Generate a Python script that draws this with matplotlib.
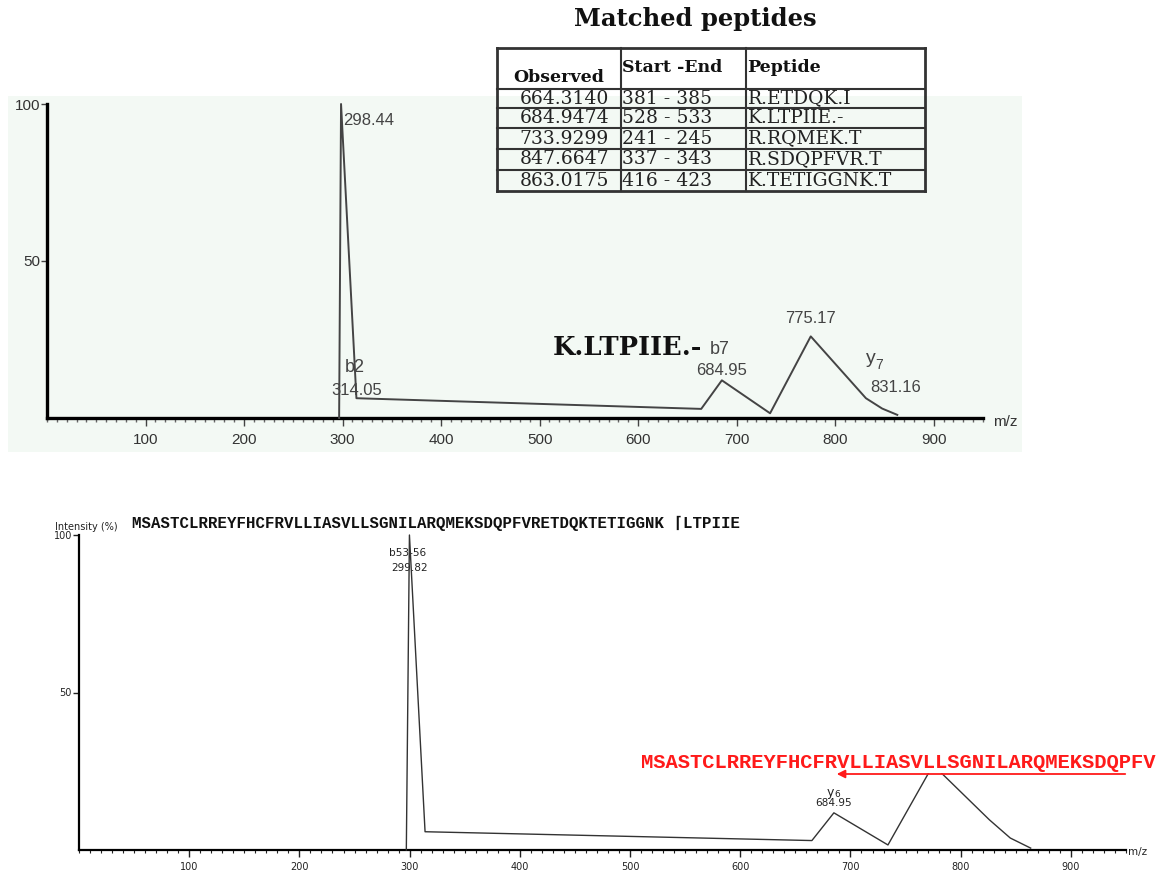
import matplotlib
matplotlib.use("Agg")
import matplotlib.pyplot as plt
from matplotlib.patches import Rectangle, FancyArrowPatch
from matplotlib.lines import Line2D
from matplotlib.ticker import FixedLocator, MultipleLocator

W, H = 1157, 875

# ---------------- data ----------------
table_title = "Matched peptides"
table_headers = ["Observed", "Start -End", "Peptide"]
observed = ["664.3140", "684.9474", "733.9299", "847.6647", "863.0175"]
start_end = ["381 - 385", "528 - 533", "241 - 245", "337 - 343", "416 - 423"]
peptides = ["R.ETDQK.I", "K.LTPIIE.-", "R.RQMEK.T", "R.SDQPFVR.T", "K.TETIGGNK.T"]

top_mz = [296.5, 298.44, 314.05, 664.0, 684.95, 733.9, 775.17, 831.16, 847.7, 863.0]
top_int = [0, 100, 6.3, 2.9, 12.0, 1.5, 26.0, 6.3, 3.0, 1.0]
top_peptide = "K.LTPIIE.-"

bot_mz = [297.0, 299.82, 314.0, 665.0, 684.95, 734.0, 775.0, 826.0, 845.0, 863.5]
bot_int = [0, 100, 5.8, 3.0, 11.8, 1.6, 27.0, 9.6, 3.8, 0.6]
bot_sequence = "MSASTCLRREYFHCFRVLLIASVLLSGNILARQMEKSDQPFVRETDQKTETIGGNK"
bot_cterm = "LTPIIE"
red_sequence = "MSASTCLRREYFHCFRVLLIASVLLSGNILARQMEKSDQPFV"

x_ticks = [100, 200, 300, 400, 500, 600, 700, 800, 900]
y_ticks = [50, 100]
x_max = 950
y_max = 100

# ---------------- figure ----------------
fig = plt.figure(figsize=(W / 100, H / 100), dpi=100)
fig.patch.set_facecolor("white")


def fx(px):
    return px / W


def fy(py):
    return 1 - py / H


def rect(x0, y0, x1, y1):
    return [fx(x0), fy(y1), (x1 - x0) / W, (y1 - y0) / H]


# mint background of top panel
fig.add_artist(Rectangle((fx(8), fy(452)), (1022 - 8) / W, (452 - 96) / H,
                         transform=fig.transFigure, facecolor="#f3f9f4",
                         edgecolor="none", zorder=-10))

# ---------------- top spectrum ----------------
ax1 = fig.add_axes(rect(47, 104, 983, 418))
ax1.set_facecolor("none")
ax1.plot(top_mz, top_int, color="#444444", lw=1.4, clip_on=False, zorder=4)
ax1.set_xlim(0, x_max)
ax1.set_ylim(0, y_max)
for s in ["top", "right"]:
    ax1.spines[s].set_visible(False)
ax1.spines["left"].set_linewidth(2.4)
ax1.spines["bottom"].set_linewidth(2.4)
ax1.xaxis.set_major_locator(FixedLocator(x_ticks))
ax1.xaxis.set_minor_locator(MultipleLocator(10))
ax1.yaxis.set_major_locator(FixedLocator(y_ticks))
ax1.tick_params(axis="x", which="major", length=6, width=1, color="#444444",
                labelsize=11, labelcolor="#333333", pad=5)
ax1.tick_params(axis="x", which="minor", length=3, width=1, color="#666666")
ax1.tick_params(axis="y", which="major", length=4, width=1, color="#444444",
                labelsize=11, labelcolor="#333333", pad=1)
for lab in ax1.get_xticklabels() + ax1.get_yticklabels():
    lab.set_fontfamily("Liberation Sans")
fig.text(fx(1005), fy(422), "m/z", fontsize=11, color="#333333",
         family="Liberation Sans", ha="center", va="center")

ann_kw = dict(fontsize=12, color="#444444", family="Liberation Sans", va="center")
ax1.text(300.4, 94.6, f"{top_mz[1]:.2f}", ha="left", **ann_kw)
ax1.text(312.6, 16.2, "b2", ha="center", **dict(ann_kw, fontsize=13))
ax1.text(314.6, 8.9, f"{top_mz[2]:.2f}", ha="center", **ann_kw)
ax1.text(664.8, 22.6, top_peptide, ha="right", va="center", fontsize=18.5,
         fontweight="bold", family="DejaVu Serif", color="#111111")
ax1.text(673.0, 21.7, "b7", ha="left", **dict(ann_kw, fontsize=13))
ax1.text(top_mz[4], 15.0, f"{top_mz[4]:.2f}", ha="center", **ann_kw)
ax1.text(top_mz[6], 31.8, f"{top_mz[6]:.2f}", ha="center", **ann_kw)
ax1.text(841.0, 19.1, "y", ha="right", **dict(ann_kw, fontsize=14))
ax1.text(841.0, 17.0, "7", ha="left", **dict(ann_kw, fontsize=10))
ax1.text(861.7, 9.6, f"{top_mz[7]:.2f}", ha="center", **ann_kw)

# ---------------- table ----------------
col_x = [497, 621, 746, 925]
row_y = [48, 89, 108, 128, 149, 170, 191]
fig.add_artist(Rectangle((fx(col_x[0]), fy(row_y[1])), (col_x[-1] - col_x[0]) / W,
                         (row_y[1] - row_y[0]) / H, transform=fig.transFigure,
                         facecolor="white", edgecolor="none", zorder=5))
for x in col_x:
    lw = 2.0 if x in (col_x[0], col_x[-1]) else 1.5
    fig.add_artist(Line2D([fx(x), fx(x)], [fy(row_y[0]), fy(row_y[-1])], color="#333333",
                          lw=lw, transform=fig.transFigure, zorder=6))
for y in row_y:
    lw = 2.0 if y in (row_y[0], row_y[-1]) else 1.5
    fig.add_artist(Line2D([fx(col_x[0]), fx(col_x[-1])], [fy(y), fy(y)], color="#333333",
                          lw=lw, transform=fig.transFigure, zorder=6))
fig.text(fx(695), fy(19), table_title, fontsize=17.5, fontweight="bold",
         family="DejaVu Serif", ha="center", va="center", color="#111111", zorder=7)
hdr_kw = dict(fontsize=12.5, fontweight="bold", family="DejaVu Serif", color="#111111",
              va="center", zorder=7)
fig.text(fx(513), fy(78), table_headers[0], ha="left", **hdr_kw)
fig.text(fx(622), fy(68), table_headers[1], ha="left", **hdr_kw)
fig.text(fx(747), fy(68), table_headers[2], ha="left", **hdr_kw)
cell_kw = dict(fontsize=13.5, family="DejaVu Serif", color="#222222", va="center", zorder=7)
for i in range(len(observed)):
    yc = (row_y[i + 1] + row_y[i + 2]) / 2
    fig.text(fx(609), fy(yc), observed[i], ha="right", **cell_kw)
    fig.text(fx(622), fy(yc), start_end[i], ha="left", **cell_kw)
    fig.text(fx(748), fy(yc), peptides[i], ha="left", **cell_kw)

# ---------------- bottom spectrum ----------------
ax2 = fig.add_axes(rect(79, 535, 1126, 850))
ax2.set_facecolor("none")
ax2.plot(bot_mz, bot_int, color="#333333", lw=1.0, clip_on=False, zorder=4)
ax2.set_xlim(0, x_max)
ax2.set_ylim(0, y_max)
for s in ["top", "right"]:
    ax2.spines[s].set_visible(False)
ax2.spines["left"].set_linewidth(1.6)
ax2.spines["bottom"].set_linewidth(1.6)
ax2.xaxis.set_major_locator(FixedLocator(x_ticks))
ax2.xaxis.set_minor_locator(MultipleLocator(10))
ax2.yaxis.set_major_locator(FixedLocator(y_ticks))
ax2.tick_params(axis="x", which="major", length=5, width=1, color="#222222",
                labelsize=7, labelcolor="#222222", pad=3.5)
ax2.tick_params(axis="x", which="minor", length=2.5, width=0.8, color="#222222")
ax2.tick_params(axis="y", which="major", length=4, width=1, color="#222222",
                labelsize=7, labelcolor="#222222", pad=1)
fig.text(fx(1138), fy(852), "m/z", fontsize=7.5, color="#222222",
         ha="center", va="center")
fig.text(fx(86), fy(527), "Intensity (%)", fontsize=7, color="#222222",
         ha="center", va="center")

bk = dict(fontsize=7.6, color="#222222", va="center", zorder=3)
ax2.text(298.4, 94.3, "b53-56", ha="center", **bk)
ax2.text(300.2, 89.5, f"{bot_mz[1]:.2f}", ha="center", **bk)
ax2.text(bot_mz[4], 18.4, "y", ha="right", **dict(bk, fontsize=9))
ax2.text(bot_mz[4], 17.6, "6", ha="left", **dict(bk, fontsize=6.5))
ax2.text(bot_mz[4], 14.9, f"{bot_mz[4]:.2f}", ha="center", **bk)

# sequence header
fig.text(fx(132), fy(523), bot_sequence + " \u2308" + bot_cterm, fontsize=11.35,
         family=["Liberation Mono", "DejaVu Sans Mono"], fontweight="bold",
         color="#111111", ha="left", va="center")

# red sequence with arrow (white backing hides the peak top)
fig.add_artist(Rectangle((fx(630), fy(773)), (W - 630) / W, (773 - 748) / H,
                         transform=fig.transFigure, facecolor="white",
                         edgecolor="none", zorder=8))
fig.text(fx(1155), fy(762), red_sequence, fontsize=14.8,
         family=["Liberation Mono", "DejaVu Sans Mono"], fontweight="bold",
         color="#ff1a1a", ha="right", va="center", zorder=9)
fig.add_artist(FancyArrowPatch(
    (fx(1128), fy(774)), (fx(834), fy(774)), transform=fig.transFigure,
    arrowstyle="-|>", mutation_scale=12, color="#ff1a1a", lw=1.3, zorder=9))

fig.savefig("out.png", dpi=100)
